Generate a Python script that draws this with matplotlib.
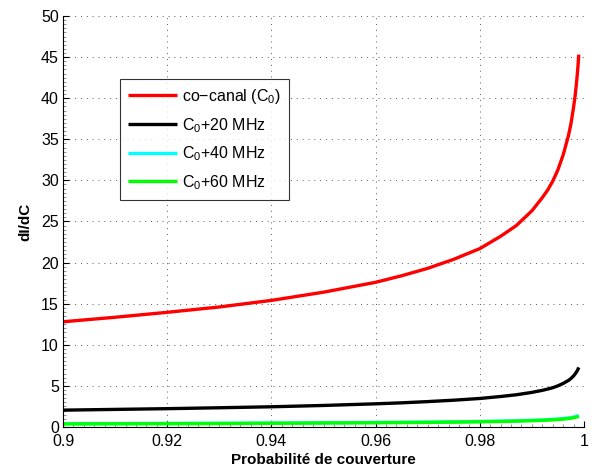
import matplotlib
matplotlib.use("Agg")
import matplotlib.pyplot as plt
from matplotlib.ticker import MultipleLocator

plt.rcParams['font.family'] = ['Liberation Sans', 'DejaVu Sans']
plt.rcParams['mathtext.fontset'] = 'custom'
plt.rcParams['mathtext.rm'] = 'Liberation Sans'
plt.rcParams['mathtext.it'] = 'Liberation Sans:italic'
plt.rcParams['mathtext.bf'] = 'Liberation Sans:bold'

# Data
prob = [0.900, 0.910, 0.920, 0.930, 0.940, 0.950, 0.960, 0.965, 0.970, 0.975,
        0.980, 0.984, 0.987, 0.990, 0.992, 0.993, 0.994, 0.995, 0.996, 0.997,
        0.9975, 0.9980, 0.9983, 0.9986, 0.9988, 0.9990]
co_canal = [12.8, 13.35, 13.95, 14.6, 15.4, 16.4, 17.6, 18.4, 19.3, 20.4,
            21.7, 23.2, 24.5, 26.3, 27.9, 28.8, 29.9, 31.3, 33.1, 35.4,
            36.9, 38.9, 40.3, 42.1, 43.5, 45.3]
c0_20 = [2.05, 2.14, 2.23, 2.34, 2.46, 2.62, 2.82, 2.94, 3.09, 3.26,
         3.47, 3.71, 3.92, 4.21, 4.46, 4.61, 4.78, 5.01, 5.30, 5.66,
         5.90, 6.22, 6.45, 6.74, 6.96, 7.25]
c0_40 = [0.40, 0.41, 0.43, 0.45, 0.48, 0.51, 0.55, 0.57, 0.60, 0.63,
         0.67, 0.72, 0.76, 0.82, 0.86, 0.89, 0.93, 0.97, 1.03, 1.10,
         1.14, 1.21, 1.25, 1.31, 1.35, 1.40]
c0_60 = [0.37, 0.39, 0.40, 0.42, 0.45, 0.48, 0.51, 0.53, 0.56, 0.59,
         0.63, 0.67, 0.71, 0.76, 0.81, 0.84, 0.87, 0.91, 0.96, 1.03,
         1.07, 1.13, 1.17, 1.22, 1.26, 1.31]

labels = ['co\u2212canal (C$_0$)', 'C$_0$+20 MHz', 'C$_0$+40 MHz', 'C$_0$+60 MHz']
colors = ['#ff0000', '#000000', '#00ffff', '#00ff00']
x_ticks = [0.9, 0.92, 0.94, 0.96, 0.98, 1.0]
x_ticklabels = ['0.9', '0.92', '0.94', '0.96', '0.98', '1']
y_ticks = [0, 5, 10, 15, 20, 25, 30, 35, 40, 45, 50]

fig = plt.figure(figsize=(5.95, 4.70), dpi=100)
ax = fig.add_axes([0.1059, 0.0915, 0.8756, 0.8745])

for ys, c, lab in zip([co_canal, c0_20, c0_40, c0_60], colors, labels):
    ax.plot(prob, ys, color=c, lw=2.4, label=lab, solid_capstyle='butt',
            solid_joinstyle='round')

ax.set_xlim(0.9, 1.0)
ax.set_ylim(0, 50)
ax.set_xticks(x_ticks)
ax.set_xticklabels(x_ticklabels)
ax.set_yticks(y_ticks)
ax.xaxis.set_minor_locator(MultipleLocator(0.002))
ax.yaxis.set_minor_locator(MultipleLocator(0.5))
ax.tick_params(which='major', direction='in', length=4, width=0.8, labelsize=11.5)
ax.tick_params(axis='x', which='major', pad=5)
ax.tick_params(axis='y', which='major', pad=3)
ax.tick_params(which='minor', direction='in', length=2, width=0.5, colors='0.4')
ax.tick_params(top=False, right=False)

for s in ['top', 'right']:
    ax.spines[s].set_visible(False)
for s in ['left', 'bottom']:
    ax.spines[s].set_linewidth(0.8)

ax.grid(True, which='major', linestyle=(0, (1, 5)), linewidth=0.7, color='0.35')
ax.set_axisbelow(True)

ax.set_xlabel('Probabilit\u00e9 de couverture', fontsize=11, fontweight='bold', labelpad=3)
ax.set_ylabel('dI/dC', fontsize=11, fontweight='bold', labelpad=6)

leg = ax.legend(loc='upper left', bbox_to_anchor=(0.1094, 0.8467), borderaxespad=0,
                fontsize=11.5, frameon=True, fancybox=False, edgecolor='black',
                handlelength=3.05, handletextpad=0.35, labelspacing=0.62,
                borderpad=0.5)
leg.get_frame().set_linewidth(0.8)

fig.savefig('out.png', dpi=100)
